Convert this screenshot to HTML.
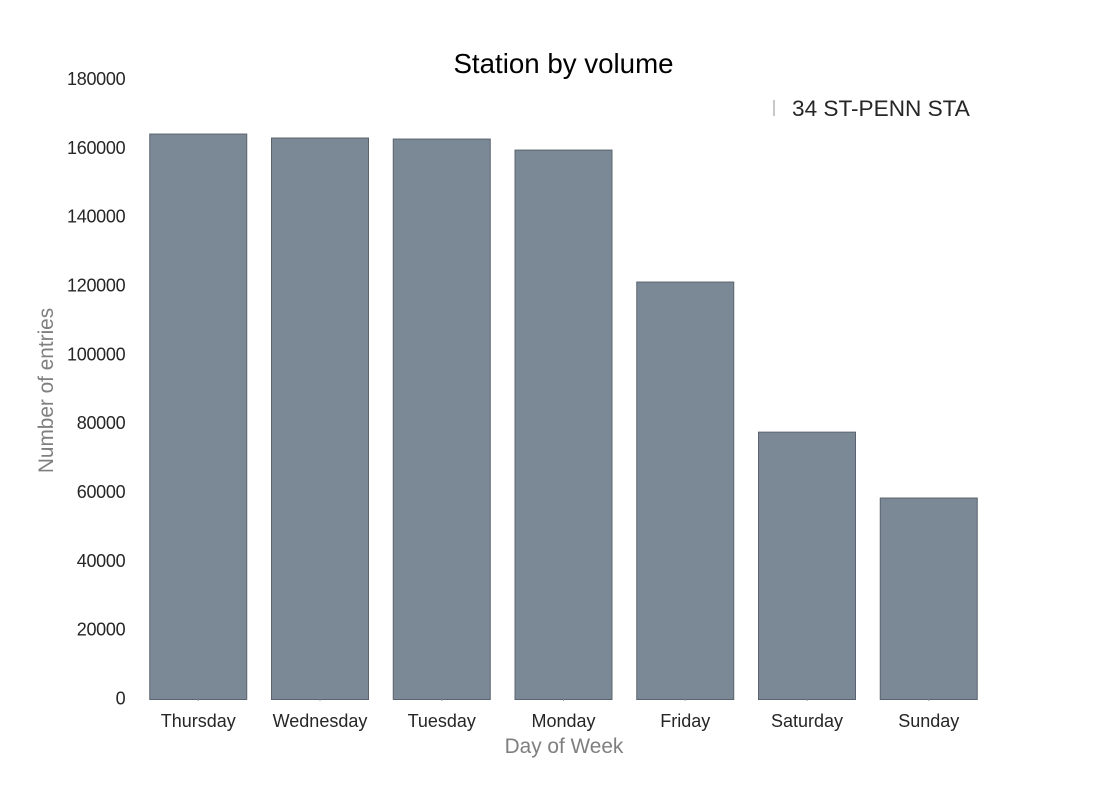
<!DOCTYPE html>
<html lang="en">
<head>
<meta charset="utf-8">
<title>Station by volume</title>
<style>
html,body{margin:0;padding:0;background:#fff}
svg{display:block;font-family:"Liberation Sans",Arial,sans-serif}
</style>
</head>
<body>
<svg id="chart" xmlns="http://www.w3.org/2000/svg" width="1100" height="800" viewBox="0 0 1100 800">
<rect x="0" y="0" width="1100" height="800" fill="#ffffff"/>
<text x="563.5" y="73" font-size="27.7" text-anchor="middle" fill="#000000">Station by volume</text>
<g id="y-ticks"></g>
<g id="bars"></g>
<g id="x-ticks"></g>
<text x="564" y="753" font-size="20.8" text-anchor="middle" fill="#7f7f7f">Day of Week</text>
<text transform="translate(53,390.5) rotate(-90)" font-size="20.8" text-anchor="middle" fill="#7f7f7f">Number of entries</text>
<g>
<rect x="773" y="100" width="2" height="16" fill="#c8c8c8"/>
<text x="792" y="116" font-size="22.6" fill="#262626">34 ST-PENN STA</text>
</g>
</svg>
<script>
const categories = ['Thursday', 'Wednesday', 'Tuesday', 'Monday', 'Friday', 'Saturday', 'Sunday'];
const entries = [163900, 162750, 162450, 159250, 121000, 77500, 58400];
const yTickValues = [0, 20000, 40000, 60000, 80000, 100000, 120000, 140000, 160000, 180000];

const NS = 'http://www.w3.org/2000/svg';
const plotBottom = 699.5;
const plotTop = 78.5;
const labelBottom = 704.5;
const labelTop = 85;
const yMax = 180000;
const firstCenter = 198.25;
const step = 121.75;
const barWidth = 97;

function yScale(v) {
  return plotBottom - (v / yMax) * (plotBottom - plotTop);
}
function yLabelScale(v) {
  return labelBottom - (v / yMax) * (labelBottom - labelTop);
}
function xScale(i) {
  return firstCenter + i * step;
}
function make(tag, attrs, parent) {
  const el = document.createElementNS(NS, tag);
  for (const k in attrs) el.setAttribute(k, attrs[k]);
  parent.appendChild(el);
  return el;
}

const barsGroup = document.getElementById('bars');
const xGroup = document.getElementById('x-ticks');
const yGroup = document.getElementById('y-ticks');

categories.forEach(function (name, i) {
  const cx = xScale(i);
  const top = yScale(entries[i]);
  const bar = make('rect', {
    x: cx - barWidth / 2,
    y: top,
    width: barWidth,
    height: plotBottom - top,
    fill: '#7b8896',
    stroke: '#5b646e',
    'stroke-width': 1
  }, barsGroup);
  
  

  const tick = make('line', {
    x1: cx, x2: cx, y1: plotBottom, y2: plotBottom + 1.5,
    stroke: '#a0a0a0', 'stroke-width': 1
  }, xGroup);
  
  

  const label = make('text', {
    x: cx, y: 727, 'font-size': 18, 'text-anchor': 'middle', fill: '#262626'
  }, xGroup);
  
  
  label.textContent = name;
});

yTickValues.forEach(function (v) {
  const label = make('text', {
    x: 125.3, y: yLabelScale(v), 'font-size': 18, 'text-anchor': 'end', 'letter-spacing': -0.3, fill: '#262626'
  }, yGroup);
  
  
  label.textContent = String(v);
});
</script>
</body>
</html>
